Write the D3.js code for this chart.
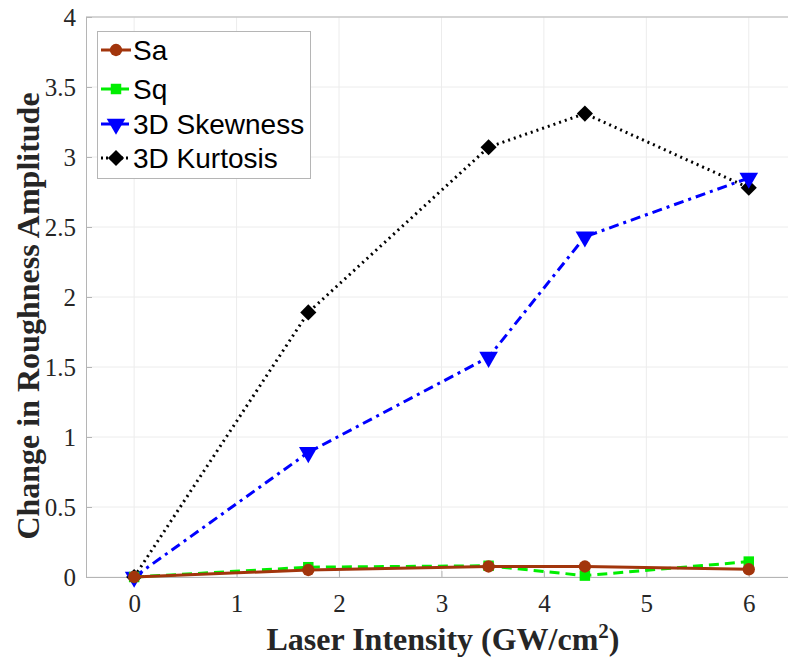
<!DOCTYPE html>
<html>
<head>
<meta charset="utf-8">
<script src="https://cdn.jsdelivr.net/npm/d3@7"></script>
<style>
  body { margin: 0; background: #fff; }
  svg { display: block; }
</style>
</head>
<body>
<div id="chart"></div>
<script>
// Data
var intensity = [0, 1.7, 3.46, 4.4, 6];
var saValues = [0, 0.05, 0.075, 0.075, 0.055];
var sqValues = [0, 0.07, 0.08, 0.01, 0.11];
var skewValues = [0, 0.89, 1.57, 2.43, 2.85];
var kurtValues = [0, 1.89, 3.07, 3.31, 2.78];
var xTicks = [0, 1, 2, 3, 4, 5, 6];
var yTicks = [0, 0.5, 1, 1.5, 2, 2.5, 3, 3.5, 4];
var seriesNames = ["Sa", "Sq", "3D Skewness", "3D Kurtosis"];

var W = 788, H = 657;
var plotLeft = 86, plotTop = 17, plotBottom = 577, plotRight = 800;

var svg = d3.select("#chart").append("svg")
    .attr("width", W)
    .attr("height", H);

var x = d3.scaleLinear().domain([-0.47, 6.5]).range([plotLeft, plotRight]);
var y = d3.scaleLinear().domain([0, 4]).range([plotBottom, plotTop]);

// grid
svg.append("g").selectAll("line").data(xTicks).enter().append("line")
    .attr("x1", d => x(d)).attr("x2", d => x(d))
    .attr("y1", plotTop).attr("y2", plotBottom)
    .attr("stroke", "#ececec").attr("stroke-width", 1);
svg.append("g").selectAll("line").data(yTicks).enter().append("line")
    .attr("x1", plotLeft).attr("x2", plotRight)
    .attr("y1", d => y(d)).attr("y2", d => y(d))
    .attr("stroke", "#ececec").attr("stroke-width", 1);

// axes
var xAxis = svg.append("g")
    .attr("transform", "translate(0," + plotBottom + ")")
    .call(d3.axisBottom(x).tickValues(xTicks).tickSize(-6).tickPadding(17).tickFormat(d3.format("d")));
var yAxis = svg.append("g")
    .attr("transform", "translate(" + plotLeft + ",0)")
    .call(d3.axisLeft(y).tickValues(yTicks).tickSize(-6).tickPadding(10).tickFormat(d => d));
svg.append("line").attr("x1", plotLeft).attr("x2", plotRight).attr("y1", plotTop).attr("y2", plotTop)
    .attr("stroke", "#b5b5b5");

[xAxis, yAxis].forEach(function (g) {
    g.select(".domain").attr("stroke", "#b5b5b5");
    g.selectAll(".tick line").attr("stroke", "#b5b5b5");
    g.selectAll("text")
        .attr("fill", "#262626")
        .style("font-family", "'Liberation Serif', 'Times New Roman', serif")
        .style("font-size", "25px");
});

// axis labels
svg.append("text")
    .attr("x", 443).attr("y", 650)
    .attr("text-anchor", "middle")
    .style("font-family", "'Liberation Serif', 'Times New Roman', serif")
    .style("font-size", "32px").style("font-weight", "bold")
    .attr("fill", "#262626")
    .html('Laser Intensity (GW/cm<tspan dy="-12" font-size="21px">2</tspan><tspan dy="12">)</tspan>');

svg.append("text")
    .attr("transform", "translate(39," + ((plotTop + plotBottom) / 2 + 19) + ") rotate(-90)")
    .attr("text-anchor", "middle")
    .style("font-family", "'Liberation Serif', 'Times New Roman', serif")
    .style("font-size", "32px").style("font-weight", "bold")
    .attr("fill", "#262626")
    .text("Change in Roughness Amplitude");

// series
var series = [
    { name: seriesNames[0], values: saValues, color: "#A2350C", dash: null, marker: d3.symbolCircle, size: 120, rot: 0 },
    { name: seriesNames[1], values: sqValues, color: "#00ee00", dash: "10,6", marker: d3.symbolSquare, size: 110, rot: 0 },
    { name: seriesNames[2], values: skewValues, color: "#0000ff", dash: "10,5,3,5", marker: d3.symbolTriangle, size: 150, rot: 180 },
    { name: seriesNames[3], values: kurtValues, color: "#000000", dash: "2,4", marker: d3.symbolSquare, size: 130, rot: 45 }
];

var line = d3.line().x(d => x(d[0])).y(d => y(d[1]));

// draw in reverse so Sa/Sq sit on top
series.slice().reverse().forEach(function (s) {
    var pts = intensity.map((v, i) => [v, s.values[i]]);
    svg.append("path")
        .datum(pts)
        .attr("d", line)
        .attr("fill", "none")
        .attr("stroke", s.color)
        .attr("stroke-width", 3)
        .attr("stroke-dasharray", s.dash);
    svg.append("g").selectAll("path").data(pts).enter().append("path")
        .attr("d", d3.symbol().type(s.marker).size(s.size))
        .attr("transform", d => "translate(" + x(d[0]) + "," + y(d[1]) + ") rotate(" + s.rot + ")")
        .attr("fill", s.color);
});

// legend
var lg = svg.append("g");
lg.append("rect")
    .attr("x", 97.5).attr("y", 31.5).attr("width", 213).attr("height", 147)
    .attr("fill", "#fff").attr("stroke", "#b5b5b5");
var rowY = [50, 89, 124, 158];
series.forEach(function (s, i) {
    var g = lg.append("g").attr("transform", "translate(0," + rowY[i] + ")");
    g.append("line")
        .attr("x1", 101).attr("x2", 131).attr("y1", 0).attr("y2", 0)
        .attr("stroke", s.color).attr("stroke-width", 3)
        .attr("stroke-dasharray", s.dash ? (i === 3 ? "2,3" : "10,3,2,3") : null);
    g.append("path")
        .attr("d", d3.symbol().type(s.marker).size(s.size))
        .attr("transform", "translate(116,0) rotate(" + s.rot + ")")
        .attr("fill", s.color);
    g.append("text")
        .attr("x", 133).attr("y", 10)
        .style("font-family", "'Liberation Sans', Arial, sans-serif")
        .style("font-size", "28px")
        .attr("fill", "#000")
        .text(s.name);
});
</script>
</body>
</html>
